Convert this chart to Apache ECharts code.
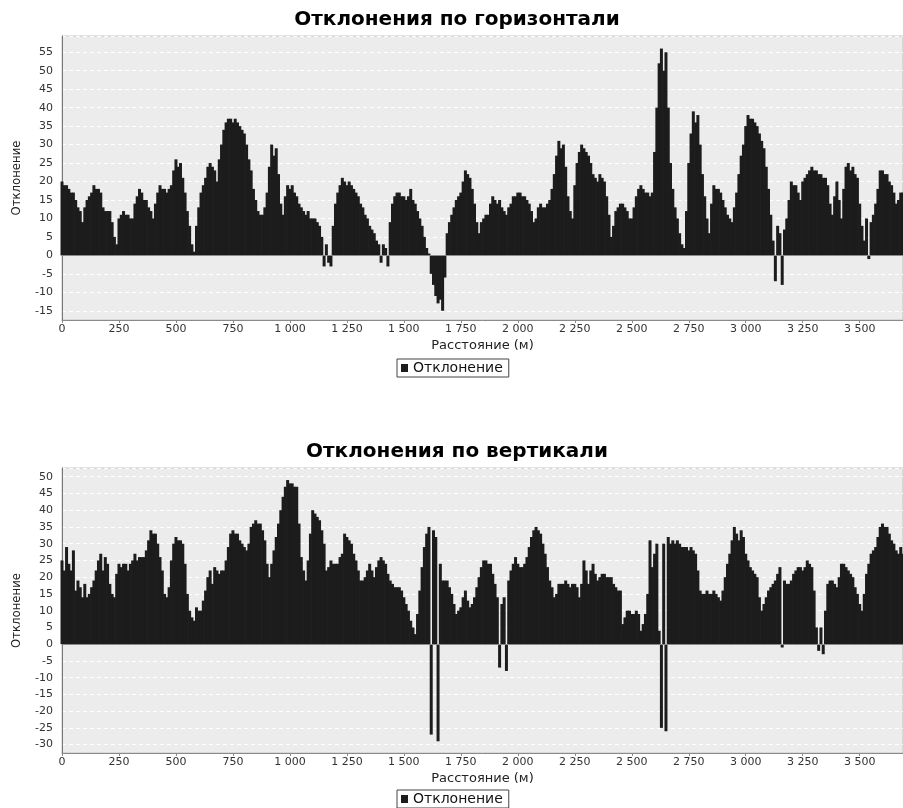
<!DOCTYPE html>
<html><head><meta charset="utf-8">
<script src="https://cdn.jsdelivr.net/npm/echarts@6/dist/echarts.min.js"></script>
<style>html,body{margin:0;padding:0;background:#fff}#c{width:903px;height:808px}</style>
</head><body><div id="c"></div>
<script>
const titles = ['Отклонения по горизонтали', 'Отклонения по вертикали'];
const seriesName = 'Отклонение';
const xName = 'Расстояние (м)';
const yName = 'Отклонение';
const distanceStepM = 10;       // one bar every 10 m, starting at 0 m
const xRange = [0, 3690];
const xTickStep = 250;
const yLabelStep = 5;           // labelled ticks
const yHalfStep = 2.5;          // axis step (so min can sit half-way between labels)
const yRangeH = [-17.5, 59.4];
const yRangeV = [-32.5, 52.6];

// Horizontal deviation, 0 m .. 3690 m (10 values per 100 m)
const hDev = [
  20,19,19,18,17,17,15,13,12,9,
  13,15,16,17,19,18,18,17,13,12,
  12,12,9,5,3,10,11,12,11,11,
  10,10,14,16,18,17,15,15,13,12,
  10,14,17,19,18,18,17,18,19,23,
  26,24,25,21,17,12,8,3,1,8,
  13,17,19,21,24,25,24,23,20,26,
  30,34,36,37,37,36,37,36,35,34,
  33,30,26,23,18,15,12,11,11,13,
  17,24,30,27,29,22,14,11,16,19,
  18,19,17,16,14,13,12,11,12,10,
  10,10,9,8,5,-3,3,-2,-3,8,
  14,17,19,21,20,19,20,19,18,17,
  16,14,13,11,10,8,7,6,4,3,
  -2,3,2,-3,9,14,16,17,17,16,
  16,15,16,18,15,14,12,10,8,5,
  2,0.5,-5,-8,-11,-13,-12,-15,-6,6,
  9,11,13,15,16,17,20,23,22,21,
  18,14,9,6,9,10,11,11,14,16,
  15,14,15,13,12,11,13,14,16,16,
  17,17,16,16,15,14,12,9,10,13,
  14,13,13,14,15,18,22,27,31,29,
  30,24,16,12,10,19,25,28,30,29,
  28,27,25,22,21,20,22,21,20,16,
  11,5,8,12,13,14,14,13,12,10,
  10,13,16,18,19,18,17,17,16,17,
  28,40,52,56,50,55,40,25,18,13,
  10,6,3,2,12,25,33,39,36,38,
  30,22,16,10,6,14,19,18,18,17,
  15,13,11,10,9,13,17,22,27,30,
  35,38,37,37,36,35,33,31,29,24,
  18,11,4,-7,8,6,-8,7,10,15,
  20,19,19,17,15,20,21,22,23,24,
  23,23,22,22,21,21,19,14,11,16,
  20,15,10,18,24,25,23,24,22,21,
  14,8,4,10,-1,9,11,14,18,23,
  23,22,22,20,19,17,14,15,17,17
];

// Vertical deviation, 0 m .. 3690 m (10 values per 100 m)
const vDev = [
  25,22,29,24,22,28,16,19,17,14,
  18,14,15,17,19,22,25,27,22,26,
  24,18,15,14,21,24,23,24,24,22,
  24,25,27,25,26,26,26,28,31,34,
  33,33,30,26,22,15,14,17,25,30,
  32,31,31,30,24,15,10,8,7,11,
  10,10,13,16,20,22,18,23,22,21,
  22,22,25,29,33,34,33,33,31,30,
  29,28,30,35,36,37,36,36,34,31,
  24,20,24,28,32,36,40,44,47,49,
  48,48,47,47,36,26,22,19,25,33,
  40,39,38,37,34,30,22,23,25,24,
  24,24,26,27,33,32,31,30,27,25,
  22,19,19,20,22,24,22,20,23,25,
  26,25,24,21,19,18,17,17,17,16,
  14,12,10,7,5,3,9,16,23,29,
  33,35,-27,34,32,-29,24,19,19,19,
  17,15,12,9,10,11,14,16,13,11,
  12,14,17,20,23,25,25,24,24,21,
  18,14,-7,12,14,-8,19,22,24,26,
  24,23,23,24,26,29,32,34,35,34,
  33,30,27,23,19,17,14,15,18,18,
  18,19,18,17,18,18,17,14,18,25,
  22,18,22,24,21,19,20,21,21,20,
  20,20,18,17,16,16,6,8,10,10,
  9,9,10,9,4,6,9,15,31,23,
  27,30,4,-25,30,-26,32,30,31,30,
  31,30,29,29,29,28,29,28,27,22,
  16,15,15,16,15,15,16,15,14,13,
  16,20,24,27,31,35,33,31,34,32,
  27,25,23,22,21,20,14,10,12,14,
  16,17,18,19,21,23,-1,19,18,18,
  19,21,22,23,23,22,23,25,24,23,
  16,5,-2,5,-3,10,18,19,19,18,
  17,20,24,24,23,22,21,20,17,15,
  12,10,15,21,24,27,28,29,32,35,
  36,35,35,33,31,30,28,27,29,27
];

const tickFont = 'DejaVu Sans';
function fmtThousands(v) {
  if (v >= 1000) return Math.floor(v / 1000) + ' ' + String(v % 1000).padStart(3, '0');
  return String(v);
}
function onStep(v, step) { return Math.abs(v / step - Math.round(v / step)) < 1e-6; }

function xAx(i) {
  return {
    type: 'value', gridIndex: i, min: xRange[0], max: xRange[1], interval: xTickStep,
    name: xName, nameLocation: 'middle', nameGap: 19,
    nameTextStyle: { fontFamily: tickFont, fontSize: 13, color: '#222' },
    axisLine: { onZero: false, lineStyle: { color: '#8a8a8a', width: 1 } },
    axisTick: { length: 3, lineStyle: { color: '#8a8a8a' } },
    axisLabel: { margin: 4, fontFamily: tickFont, fontSize: 11, color: '#333',
      showMaxLabel: false,
      formatter: v => onStep(v, xTickStep) ? fmtThousands(v) : '' },
    splitLine: { show: false }
  };
}
function yAx(i, range) {
  return {
    type: 'value', gridIndex: i, min: range[0], max: range[1], interval: yHalfStep,
    name: yName, nameLocation: 'middle', nameGap: 39,
    nameTextStyle: { fontFamily: "'Liberation Sans Narrow','DejaVu Sans Condensed',sans-serif", fontSize: 13, color: '#222' },
    axisLine: { show: true, lineStyle: { color: '#777' } },
    axisTick: { show: false },
    axisLabel: { margin: 9, fontFamily: tickFont, fontSize: 11, color: '#333',
      formatter: v => onStep(v, yLabelStep) ? String(v) : '' },
    splitLine: { show: true, lineStyle: { color: ['rgba(0,0,0,0)', '#ffffff'], type: [4, 3], width: 1 } }
  };
}
function barSeries(i, values) {
  return {
    name: seriesName, type: 'bar', xAxisIndex: i, yAxisIndex: i,
    data: values.map((v, k) => [k * distanceStepM, v]),
    barWidth: 3, itemStyle: { color: '#1c1c1c' },
    animation: false,
    markLine: { silent: true, symbol: 'none', label: { show: false },
      lineStyle: { color: '#8a8a8a', width: 1, type: 'solid' }, data: [{ yAxis: 0 }] }
  };
}
function legendAt(top) {
  return {
    left: 397, top: top, data: [seriesName], icon: 'rect', itemWidth: 7, itemHeight: 8,
    padding: [2, 6, 2, 4], borderWidth: 1, borderColor: '#444', selectedMode: false,
    textStyle: { fontFamily: tickFont, fontSize: 14, color: '#111' }
  };
}
const chart = echarts.init(document.getElementById('c'), null, { renderer: 'canvas' });
chart.setOption({
  animation: false,
  backgroundColor: '#ffffff',
  title: [
    { text: titles[0], left: 457, top: 10, padding: 0, textAlign: 'center',
      textStyle: { fontFamily: tickFont, fontWeight: 'bold', fontSize: 20, color: '#000' } },
    { text: titles[1], left: 457, top: 442, padding: 0, textAlign: 'center',
      textStyle: { fontFamily: tickFont, fontWeight: 'bold', fontSize: 20, color: '#000' } }
  ],
  legend: [legendAt(359), legendAt(790)],
  grid: [
    { left: 62, right: 0, top: 36, height: 284, show: true, backgroundColor: '#ececec', borderColor: '#c4c4c4', borderWidth: 1 },
    { left: 62, right: 0, top: 468, height: 285, show: true, backgroundColor: '#ececec', borderColor: '#c4c4c4', borderWidth: 1 }
  ],
  xAxis: [xAx(0), xAx(1)],
  yAxis: [yAx(0, yRangeH), yAx(1, yRangeV)],
  series: [barSeries(0, hDev), barSeries(1, vDev)]
});
</script></body></html>
